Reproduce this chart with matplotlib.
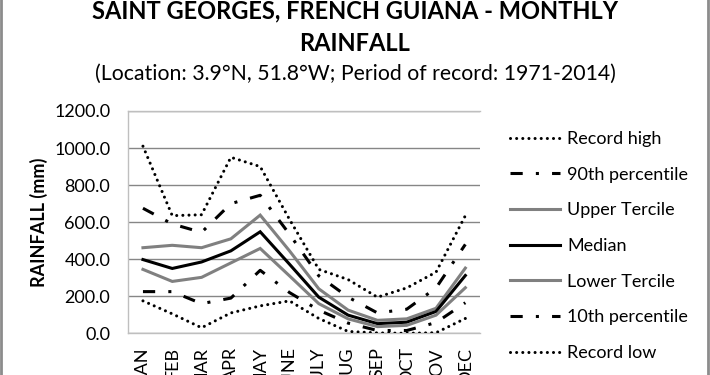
import matplotlib
matplotlib.use("Agg")
import matplotlib.pyplot as plt
from matplotlib.lines import Line2D

plt.rcParams['font.family'] = ['Lato', 'DejaVu Sans']

months = ["JAN", "FEB", "MAR", "APR", "MAY", "JUNE", "JULY", "AUG", "SEP", "OCT", "NOV", "DEC"]
record_high = [1010, 635, 640, 950, 900, 615, 345, 290, 195, 245, 330, 635]
pct90 = [675, 590, 545, 700, 745, 535, 310, 195, 110, 130, 245, 480]
upper_tercile = [462, 475, 462, 510, 638, 445, 240, 125, 70, 78, 135, 352]
median = [398, 350, 385, 445, 548, 373, 195, 98, 52, 60, 118, 312]
lower_tercile = [345, 280, 302, 380, 458, 310, 160, 78, 36, 43, 98, 246]
pct10 = [225, 225, 160, 190, 340, 220, 125, 55, 15, 15, 58, 165]
record_low = [175, 105, 30, 110, 148, 175, 80, 10, 2, 0, 3, 80]
yticks = [0, 200, 400, 600, 800, 1000, 1200]

fig = plt.figure(figsize=(7.1, 3.75), dpi=100)
ax = fig.add_axes([128.3 / 710, 41.7 / 375, 351.7 / 710, 222.3 / 375])

x = list(range(len(months)))
lw = 2.2
dot = (0, (0.01, 2.0))
dashdot = (0, (4.0, 4.3, 1.0, 4.3))
series = [
    ("Record high", record_high, "black", dot, "round"),
    ("90th percentile", pct90, "black", dashdot, "butt"),
    ("Upper Tercile", upper_tercile, "#808080", "-", "butt"),
    ("Median", median, "black", "-", "butt"),
    ("Lower Tercile", lower_tercile, "#808080", "-", "butt"),
    ("10th percentile", pct10, "black", dashdot, "butt"),
    ("Record low", record_low, "black", dot, "round"),
]
handles = []
for name, vals, col, ls, cap in series:
    ln, = ax.plot(x, vals, color=col, linestyle=ls, linewidth=lw,
                  dash_capstyle=cap, solid_joinstyle="miter", label=name, zorder=3)
    handles.append(ln)

ax.set_xlim(-0.5, len(months) - 0.5)
ax.set_ylim(0, 1200)
ax.set_yticks(yticks)
ax.set_yticklabels([f"{v:.1f}" for v in yticks])
ax.set_xticks(x)
ax.set_xticklabels(months, rotation=90, va="top", ha="center")
ax.tick_params(axis="both", length=0, labelsize=13, colors="black")
ax.tick_params(axis="x", pad=10)
ax.tick_params(axis="y", pad=13)
ax.grid(axis="y", color="#868686", linewidth=1.0)
ax.set_axisbelow(True)
for s in ["left", "top", "bottom"]:
    ax.spines[s].set_color("#bfbfbf")
    ax.spines[s].set_linewidth(1.0)
ax.spines["right"].set_visible(False)

fig.text(39 / 710, (41.7 + 222.3 / 2) / 375, "RAINFALL (mm)", rotation=90,
         ha="center", va="center", fontsize=13, fontweight="bold")

fig.text(0.5, (375 - 18) / 375, "SAINT GEORGES, FRENCH GUIANA - MONTHLY",
         ha="center", va="baseline", fontsize=17, fontweight="bold")
fig.text(0.5, (375 - 51) / 375, "RAINFALL",
         ha="center", va="baseline", fontsize=17, fontweight="bold")
fig.text(0.5, (375 - 80) / 375, "(Location: 3.9°N, 51.8°W; Period of record: 1971-2014)",
         ha="center", va="baseline", fontsize=15.3)

leg = fig.legend(handles=handles, loc="upper left",
                 bbox_to_anchor=(510 / 710, (375 - 131) / 375),
                 frameon=False, fontsize=13, handlelength=2.77, handletextpad=0.39,
                 labelspacing=1.09, borderaxespad=0, borderpad=0)

# chart outer frame (left and right edges visible)
fig.add_artist(Line2D([1.5 / 710, 1.5 / 710], [0, 1], transform=fig.transFigure,
                      color="#8c8c8c", linewidth=2))
fig.add_artist(Line2D([707.5 / 710, 707.5 / 710], [0, 1], transform=fig.transFigure,
                      color="#8c8c8c", linewidth=2))

fig.savefig("out.png", dpi=100)
